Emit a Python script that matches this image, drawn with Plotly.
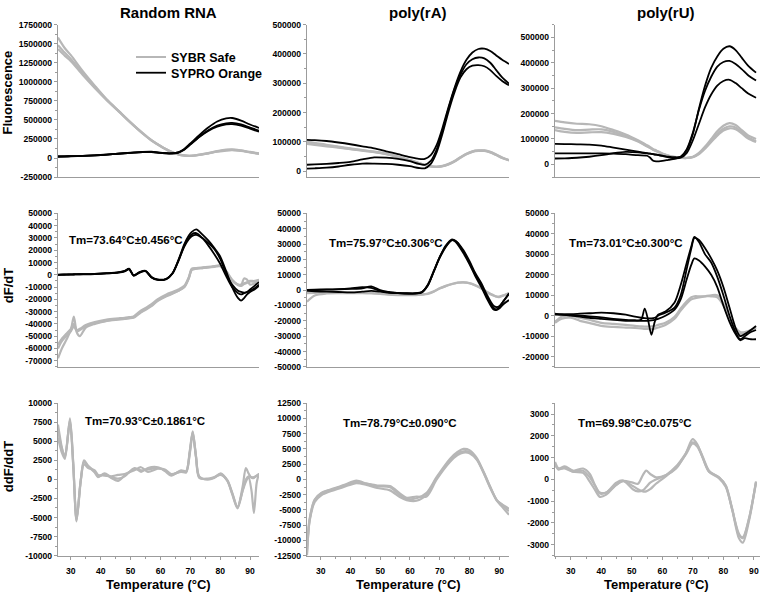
import plotly.graph_objects as go

# ---------------- DATA ----------------
# Row 1 : Fluorescence
T_F_RAND = [25.7, 28, 30, 34, 38, 42, 46, 50, 54, 57, 60, 63, 66, 68, 70, 73, 76, 79, 82, 84, 87, 90, 93]
F_RAND_SYBR_1 = [1580000, 1440000, 1350000, 1140000, 950000, 770000, 620000, 470000, 330000, 235000, 160000, 95000, 50000, 35000, 30000, 45000, 65000, 90000, 110000, 115000, 100000, 80000, 60000]
F_RAND_SYBR_2 = [1480000, 1380000, 1300000, 1110000, 935000, 765000, 615000, 465000, 325000, 232000, 157000, 92000, 48000, 33000, 28000, 42000, 62000, 86000, 104000, 108000, 96000, 76000, 57000]
F_RAND_SYBR_3 = [1430000, 1340000, 1270000, 1090000, 920000, 760000, 612000, 462000, 322000, 230000, 155000, 90000, 46000, 31000, 27000, 40000, 60000, 82000, 98000, 102000, 92000, 73000, 55000]
F_RAND_SYPRO_1 = [20000, 22000, 24000, 28000, 35000, 45000, 58000, 70000, 80000, 82000, 70000, 62000, 75000, 120000, 190000, 300000, 400000, 480000, 520000, 525000, 490000, 440000, 395000]
F_RAND_SYPRO_2 = [20000, 22000, 24000, 28000, 35000, 45000, 57000, 68000, 78000, 80000, 68000, 60000, 73000, 115000, 180000, 280000, 365000, 425000, 455000, 460000, 440000, 400000, 360000]
F_RAND_SYPRO_3 = [18000, 20000, 22000, 27000, 34000, 44000, 56000, 67000, 77000, 79000, 67000, 59000, 72000, 110000, 175000, 275000, 355000, 410000, 440000, 445000, 425000, 385000, 345000]

T_F_RA = [25.4, 28, 32, 36, 40, 44, 48, 52, 56, 60, 63, 65, 67, 69, 71, 73, 75, 77, 79, 81, 83, 85, 87, 89, 91, 93.3]
F_RA_SYBR_1 = [100000, 97000, 90000, 84000, 78000, 72000, 67000, 60000, 50000, 38000, 28000, 22000, 17000, 15000, 18000, 25000, 35000, 48000, 60000, 68000, 71000, 71000, 66000, 57000, 47000, 38000]
F_RA_SYBR_2 = [93000, 90000, 85000, 80000, 75000, 70000, 65000, 58000, 48000, 36000, 27000, 21000, 16000, 14500, 17000, 23000, 33000, 46000, 58000, 66000, 69000, 69000, 64000, 55000, 45000, 37000]
F_RA_SYBR_3 = [97000, 94000, 88000, 82000, 76000, 71000, 66000, 59000, 49000, 37000, 27500, 21500, 16500, 14800, 17500, 24000, 34000, 47000, 59000, 67000, 70000, 70000, 65000, 56000, 46000, 37500]
F_RA_SYPRO_1 = [107000, 106000, 103000, 98000, 92000, 85000, 78000, 68000, 58000, 48000, 42000, 42000, 55000, 90000, 150000, 220000, 285000, 340000, 380000, 405000, 417000, 418000, 410000, 395000, 380000, 366000]
F_RA_SYPRO_2 = [22000, 23000, 25000, 28000, 32000, 40000, 47000, 46000, 42000, 34000, 25000, 22000, 35000, 75000, 140000, 215000, 280000, 330000, 365000, 382000, 388000, 385000, 370000, 345000, 320000, 299000]
F_RA_SYPRO_3 = [9000, 10000, 12000, 16000, 22000, 26000, 26000, 25000, 22000, 17000, 11000, 10000, 25000, 65000, 130000, 205000, 270000, 320000, 348000, 360000, 362000, 358000, 345000, 325000, 308000, 293000]

T_F_RU = [24.8, 28, 32, 36, 40, 44, 48, 52, 55, 56, 57, 58, 60, 62, 64, 66, 68, 70, 72, 74, 76, 78, 80, 82, 84, 86, 88, 90.7]
F_RU_SYBR_1 = [171000, 165000, 160000, 158000, 150000, 135000, 118000, 95000, 75000, 68000, 60000, 55000, 43000, 35000, 30000, 27000, 26000, 30000, 45000, 70000, 100000, 130000, 152000, 162000, 155000, 135000, 115000, 100000]
F_RU_SYBR_2 = [146000, 140000, 135000, 137000, 138000, 128000, 112000, 92000, 72000, 65000, 58000, 53000, 42000, 34000, 29000, 26000, 25000, 29000, 42000, 65000, 93000, 120000, 140000, 150000, 145000, 127000, 108000, 90000]
F_RU_SYBR_3 = [135000, 128000, 124000, 126000, 127000, 120000, 108000, 90000, 70000, 64000, 57000, 52000, 41000, 33000, 28000, 25500, 25000, 28000, 40000, 62000, 88000, 113000, 133000, 142000, 138000, 122000, 103000, 88000]
F_RU_SYPRO_1 = [81000, 80000, 79000, 78000, 74000, 66000, 58000, 50000, 44000, 42000, 40000, 38000, 34000, 30000, 28000, 30000, 55000, 120000, 220000, 310000, 380000, 425000, 455000, 465000, 450000, 420000, 390000, 361000]
F_RU_SYPRO_2 = [43000, 43000, 43000, 43000, 43000, 42000, 40000, 36000, 34000, 26000, 14000, 12000, 14000, 18000, 22000, 30000, 60000, 125000, 215000, 290000, 345000, 385000, 403000, 407000, 395000, 375000, 352000, 330000]
F_RU_SYPRO_3 = [23000, 24000, 26000, 30000, 36000, 44000, 49000, 47000, 43000, 42000, 40000, 38000, 33000, 28000, 24000, 26000, 45000, 95000, 160000, 225000, 275000, 310000, 328000, 333000, 320000, 300000, 280000, 262000]

# Row 2 : dF/dT
T_D_RAND = [25.7, 27, 28.5, 30, 31, 32, 33, 35, 38, 42, 46, 48, 49.5, 51, 53, 55, 57, 59, 62, 64, 66, 68, 69.5, 70.5, 72, 74, 76, 78, 80, 82, 84, 86, 87, 88, 89, 90, 91.5, 93]
D_RAND_SYBR_1 = [-68000, -60000, -53000, -45000, -34000, -47000, -50000, -43000, -40000, -37500, -36000, -35500, -35000, -34500, -31000, -28000, -25000, -21000, -17000, -15000, -13000, -10000, -3000, 4000, 5000, 5500, 6000, 6500, 7000, 3000, -4000, -8000, -8500, -3000, -4000, -8000, -7000, -5000]
D_RAND_SYBR_2 = [-57000, -52000, -48000, -44000, -40000, -45000, -44000, -41000, -38500, -36500, -35500, -35000, -34500, -34000, -30000, -27000, -24000, -20000, -16000, -14000, -12000, -9000, -2000, 5000, 5500, 6000, 6500, 7000, 7500, 2000, -5000, -8000, -8000, -7000, -6000, -5000, -5000, -4000]
D_RAND_SYBR_3 = [-60000, -54000, -50000, -46000, -42000, -46000, -45000, -42000, -39500, -37500, -36500, -36000, -35500, -35000, -31500, -28500, -25500, -21500, -17500, -15500, -13000, -10000, -2500, 4500, 5000, 5500, 6000, 6800, 7200, 2500, -4500, -8500, -9000, -7500, -6500, -5500, -5500, -4500]
D_RAND_SYPRO_1 = [0, 100, 200, 300, 350, 400, 450, 500, 700, 1200, 2000, 3000, 5000, -500, 2000, 3200, -2000, -4000, -3400, 1000, 12000, 25000, 32000, 35000, 37000, 33000, 28000, 22000, 15000, 3000, -10000, -19000, -21000, -19000, -16000, -14000, -12000, -9000]
D_RAND_SYPRO_2 = [0, 0, 100, 200, 250, 300, 350, 400, 600, 1100, 1800, 2800, 4500, -800, 1800, 3000, -2200, -4200, -3500, 800, 11000, 24000, 30000, 33000, 34000, 30000, 24000, 17000, 9000, -1000, -10000, -15000, -16000, -15000, -14000, -13000, -11000, -8000]
D_RAND_SYPRO_3 = [200, 300, 300, 400, 450, 500, 550, 600, 800, 1300, 2100, 3200, 4800, -300, 2200, 3300, -1800, -3800, -3200, 1200, 11500, 23000, 29000, 31500, 32500, 30000, 26000, 21000, 13000, 1000, -8000, -13000, -14000, -14500, -14000, -12000, -9000, -6000]

T_D_RA = [25.4, 28, 32, 36, 40, 44, 47, 50, 53, 56, 59, 62, 64, 66, 68, 70, 72, 74, 75, 76, 78, 80, 82, 84, 86, 88, 89, 90, 91.5, 93.3]
D_RA_SYBR_1 = [-7500, -3500, -2200, -2000, -2000, -2000, -2000, -2500, -3000, -3200, -3300, -3300, -3000, -2500, -1000, 1000, 2500, 3800, 4300, 4800, 5000, 4500, 3000, 1000, -1500, -3500, -4300, -4500, -3500, -2000]
D_RA_SYBR_2 = [-2000, -1800, -1500, -1500, -1600, -1800, -2000, -2300, -2700, -3000, -3100, -3100, -2800, -2200, -800, 1200, 2800, 4000, 4500, 4900, 5100, 4600, 3200, 1200, -1200, -3200, -4000, -4200, -3300, -1800]
D_RA_SYPRO_1 = [0, 0, 300, 500, 800, 1200, 2500, 0, -1500, -2000, -2200, -2200, -1500, 3000, 12000, 21000, 28000, 32500, 32500, 31000, 25000, 18000, 10000, 3000, -5000, -11500, -12500, -11000, -7000, -2500]
D_RA_SYPRO_2 = [-500, -800, -1000, -1200, -1500, -1000, -500, -1000, -1800, -2000, -2300, -2100, -1400, 3500, 12500, 21500, 28500, 32500, 32000, 30000, 24000, 17000, 9000, 2000, -6000, -12500, -13000, -12000, -9000, -6500]
D_RA_SYPRO_3 = [200, 300, 500, 700, 1200, 2000, 1500, -500, -1200, -1800, -2000, -2000, -1200, 3000, 12000, 21500, 29000, 33000, 32500, 31000, 26000, 19000, 11000, 4500, -3500, -10000, -11000, -10500, -7000, -2000]

T_D_RU = [24.8, 27, 30, 33, 36, 40, 44, 48, 51, 53, 54.2, 55.3, 56.4, 57.5, 58.6, 61, 64, 66, 68, 69.5, 70.5, 72, 74, 76, 78, 80, 82, 84, 85.5, 87, 89, 90.7]
D_RU_SYBR_1 = [-3500, -1500, -1000, -2500, -3500, -5000, -5500, -5800, -6000, -6200, -6400, -6500, -6600, -6300, -5800, -4500, -1500, 2500, 6000, 8000, 8500, 9000, 9500, 10000, 10000, 6000, -1000, -6000, -8000, -8000, -7000, -6000]
D_RU_SYBR_2 = [-3000, -500, 0, -1000, -2000, -3500, -4000, -4500, -5000, -5200, -5300, -5300, -5200, -5000, -4500, -3500, -500, 3500, 7000, 9000, 9500, 9500, 9500, 9500, 9000, 5000, -2000, -7000, -9000, -8500, -7000, -5500]
D_RU_SYPRO_1 = [800, 600, 300, 0, -300, -800, -1500, -2000, -2200, -2000, 3500, -2000, -9300, -3000, 500, 2000, 6500, 15000, 26000, 34000, 38500, 36000, 30000, 26000, 19000, 10000, 0, -8000, -11500, -10000, -8000, -7000]
D_RU_SYPRO_2 = [500, 700, 800, 1000, 1200, 1500, 1200, 500, -500, -1000, -1200, -1300, -1300, -1000, 0, 1500, 4000, 10000, 23000, 33000, 38000, 37000, 33000, 28000, 22000, 14000, 4000, -6000, -10000, -9000, -7000, -5000]
D_RU_SYPRO_3 = [1000, 500, 0, -500, -1000, -1500, -2000, -2500, -2500, -2500, -2500, -2500, -2300, -2000, -1500, 0, 3000, 8000, 18000, 25000, 28000, 27000, 24000, 20000, 14000, 5000, -3000, -9000, -12000, -11000, -11500, -11500]

# Row 3 : ddF/ddT (SYBR Safe)
T_DD_RAND = [25.7, 27, 28, 29.7, 30.8, 31.9, 33.3, 34.4, 35.8, 38, 39.1, 41.3, 43.5, 45.8, 48, 51.3, 53.5, 55.8, 59.1, 61.5, 63.6, 66.9, 68.6, 69.8, 70.8, 71.9, 73, 75.8, 78, 80.2, 82.4, 84, 85.8, 87.5, 88.6, 89.5, 90.5, 91.3, 92.2, 93]
DD_RAND_1 = [6500, 4000, 3000, 7800, 2000, -5500, -300, 2500, 1800, 1000, 400, 700, 200, -200, 500, 1400, 1200, 1300, 1500, 1200, 600, 1100, 1000, 3500, 6200, 3000, 300, 0, 200, 700, -200, -1800, -3700, -1000, 1500, 800, 200, 200, 500, 700]
DD_RAND_2 = [7200, 4200, 2900, 7500, 1800, -5200, -200, 2000, 1500, 1200, 600, 500, 400, 600, 700, 1200, 1600, 1000, 1400, 1300, 700, 1000, 900, 3300, 6000, 2900, 200, 100, 300, 600, -100, -1700, -3600, -1500, -300, 300, -1500, -4400, -500, 800]
DD_RAND_3 = [5500, 3500, 2700, 8000, 2200, -5400, -100, 2300, 1700, 900, 300, 800, 300, 100, 400, 1500, 1000, 1500, 1600, 1100, 500, 1200, 1100, 3700, 6300, 3100, 400, 0, 250, 800, -150, -1900, -3800, -1500, 0, 400, 300, 300, 500, 700]

T_DD_RA = [25.4, 26.3, 28, 30.2, 34.2, 38, 42, 45.4, 49, 53.3, 56.6, 58.9, 62.2, 65.6, 69, 73.5, 76, 78, 80, 82.5, 85, 87, 89.2, 91, 93.3]
DD_RA_1 = [-12500, -6600, -3400, -2300, -1500, -900, -200, -700, -1100, -1300, -2600, -3200, -3100, -2200, 400, 3400, 4500, 5000, 4800, 3500, 1000, -1200, -3400, -4200, -5200]
DD_RA_2 = [-12000, -6800, -3700, -2600, -1800, -1200, -600, -900, -1400, -1800, -2900, -3400, -3500, -2500, 200, 3100, 4200, 4600, 4500, 3300, 900, -1300, -3500, -4500, -5800]
DD_RA_3 = [-11500, -6400, -3300, -2200, -1600, -1000, -400, -700, -1000, -1100, -2300, -3000, -2800, -2800, 0, 2900, 4000, 4400, 4300, 3200, 800, -1400, -3400, -4100, -4800]

T_DD_RU = [24.8, 26, 28, 30.8, 34, 36.2, 38, 39.5, 41.6, 44.9, 47.1, 50.3, 52, 53.6, 54.7, 56, 57.9, 61.2, 64.5, 67.7, 69.9, 71.5, 73.2, 75.3, 78.6, 80.8, 82.9, 85.1, 86.4, 88.4, 90.7]
DD_RU_1 = [800, 500, 600, 400, 500, 250, -300, -650, -600, -250, -70, -150, -200, 200, 400, 250, 100, 200, 500, 1200, 1850, 1600, 1000, 350, 100, -300, -1400, -2500, -2700, -1800, -100]
DD_RU_2 = [700, 450, 550, 350, 300, -100, -500, -800, -700, -250, -80, -300, -450, -550, -550, -450, -200, 150, 550, 1150, 1650, 1500, 1000, 350, 50, -350, -1400, -2700, -2900, -1900, -150]
DD_RU_3 = [650, 500, 500, 350, 400, 100, -300, -600, -600, -150, -50, -450, -550, -500, -350, -150, 0, 200, 600, 1200, 1700, 1550, 1050, 400, 80, -280, -1350, -2550, -2650, -1800, -100]

# Tick values
YT_F_RAND = [-250000, 0, 250000, 500000, 750000, 1000000, 1250000, 1500000, 1750000]
YT_F_RA = [0, 100000, 200000, 300000, 400000, 500000]
YT_F_RU = [0, 100000, 200000, 300000, 400000, 500000]
YT_D_RAND = [-70000, -60000, -50000, -40000, -30000, -20000, -10000, 0, 10000, 20000, 30000, 40000, 50000]
YT_D_RA = [-50000, -40000, -30000, -20000, -10000, 0, 10000, 20000, 30000, 40000, 50000]
YT_D_RU = [-20000, -10000, 0, 10000, 20000, 30000, 40000, 50000]
YT_DD_RAND = [-10000, -7500, -5000, -2500, 0, 2500, 5000, 7500, 10000]
YT_DD_RA = [-12500, -10000, -7500, -5000, -2500, 0, 2500, 5000, 7500, 10000, 12500]
YT_DD_RU = [-3000, -2000, -1000, 0, 1000, 2000, 3000]
XT = [30, 40, 50, 60, 70, 80, 90]

COL_TITLES = ["Random RNA", "poly(rA)", "poly(rU)"]
ROW_TITLES = ["Fluorescence", "dF/dT", "ddF/ddT"]
TM_D = ["Tm=73.64°C±0.456°C", "Tm=75.97°C±0.306°C", "Tm=73.01°C±0.300°C"]
TM_DD = ["Tm=70.93°C±0.1861°C", "Tm=78.79°C±0.090°C", "Tm=69.98°C±0.075°C"]

# ---------------- LAYOUT ----------------
W, H = 760, 597
GRAY = "#b7b7b7"
BLACK = "#000000"
AXC = "#9c9c9c"
FONT = "Liberation Sans"

col_px = [(58, 259), (307, 509), (555, 760)]
row_px = [(20, 175), (212, 368), (405, 560)]
XR3 = [24.8, 92.0]

panels = [
    (0, 0, T_F_RAND, [F_RAND_SYBR_1, F_RAND_SYBR_2, F_RAND_SYBR_3], [F_RAND_SYPRO_1, F_RAND_SYPRO_2, F_RAND_SYPRO_3], [-250000, 1750000], YT_F_RAND, 125000, [25.7, 93]),
    (0, 1, T_F_RA, [F_RA_SYBR_1, F_RA_SYBR_2, F_RA_SYBR_3], [F_RA_SYPRO_1, F_RA_SYPRO_2, F_RA_SYPRO_3], [-20000, 500000], YT_F_RA, 50000, [25.4, 93.3]),
    (0, 2, T_F_RU, [F_RU_SYBR_1, F_RU_SYBR_2, F_RU_SYBR_3], [F_RU_SYPRO_1, F_RU_SYPRO_2, F_RU_SYPRO_3], [-50000, 550000], YT_F_RU, 50000, XR3),
    (1, 0, T_D_RAND, [D_RAND_SYBR_1, D_RAND_SYBR_2, D_RAND_SYBR_3], [D_RAND_SYPRO_1, D_RAND_SYPRO_2, D_RAND_SYPRO_3], [-75000, 50000], YT_D_RAND, 5000, [25.7, 93]),
    (1, 1, T_D_RA, [D_RA_SYBR_1, D_RA_SYBR_2], [D_RA_SYPRO_1, D_RA_SYPRO_2, D_RA_SYPRO_3], [-50000, 50000], YT_D_RA, 5000, [25.4, 93.3]),
    (1, 2, T_D_RU, [D_RU_SYBR_1, D_RU_SYBR_2], [D_RU_SYPRO_1, D_RU_SYPRO_2, D_RU_SYPRO_3], [-25000, 50000], YT_D_RU, 5000, XR3),
    (2, 0, T_DD_RAND, [DD_RAND_1, DD_RAND_2, DD_RAND_3], [], [-10000, 10000], YT_DD_RAND, 1250, [25.7, 93]),
    (2, 1, T_DD_RA, [DD_RA_1, DD_RA_2, DD_RA_3], [], [-12500, 12500], YT_DD_RA, 1250, [25.4, 93.3]),
    (2, 2, T_DD_RU, [DD_RU_1, DD_RU_2, DD_RU_3], [], [-3500, 3500], YT_DD_RU, 500, XR3),
]

fig = go.Figure()
tickfont = dict(family=FONT, size=8.6, color="black", weight="bold")
layout = {}
legend_done = {"gray": False, "black": False}

for idx, (r, c, T, grays, blacks, yr, yt, ymin, xr) in enumerate(panels):
    k = idx + 1
    xa = "x" if k == 1 else f"x{k}"
    ya = "y" if k == 1 else f"y{k}"
    for series in grays:
        assert len(series) == len(T), (k, len(series), len(T))
        show = not legend_done["gray"]
        legend_done["gray"] = True
        fig.add_trace(go.Scatter(x=T, y=series, mode="lines", xaxis=xa, yaxis=ya,
                                 line=dict(color=GRAY, width=2.2, shape="spline", smoothing=0.8),
                                 name="SYBR Safe", showlegend=show, legend="legend", hoverinfo="skip"))
    for series in blacks:
        assert len(series) == len(T), (k, len(series), len(T))
        show = not legend_done["black"]
        legend_done["black"] = True
        fig.add_trace(go.Scatter(x=T, y=series, mode="lines", xaxis=xa, yaxis=ya,
                                 line=dict(color=BLACK, width=1.8, shape="spline", smoothing=0.8),
                                 name="SYPRO Orange", showlegend=show, legend="legend2", hoverinfo="skip"))
    x0, x1 = col_px[c]
    y0, y1 = row_px[r]
    bottom = (r == 2)
    layout["xaxis" if k == 1 else f"xaxis{k}"] = dict(
        domain=[x0 / W, x1 / W], anchor=ya, range=xr, showgrid=False, zeroline=False,
        showline=True, linecolor=AXC, linewidth=1.3,
        ticks="outside" if bottom else "", ticklen=3, tickcolor=AXC,
        tickvals=XT, ticktext=[str(v) for v in XT], showticklabels=bottom,
        tickfont=tickfont, ticklabeloverflow="allow", ticklabelstandoff=4,
        minor=dict(dtick=5, tick0=0, ticklen=2, tickcolor=AXC, ticks="outside" if bottom else "", showgrid=False),
    )
    layout["yaxis" if k == 1 else f"yaxis{k}"] = dict(
        domain=[1 - y1 / H, 1 - y0 / H], anchor=xa, range=yr, showgrid=False, zeroline=False,
        showline=True, linecolor=AXC, linewidth=1.3,
        ticks="outside", ticklen=3, tickcolor=AXC,
        tickvals=yt, ticktext=[str(v) for v in yt], tickfont=tickfont, ticklabeloverflow="allow",
        minor=dict(dtick=ymin, tick0=0, ticklen=2, tickcolor=AXC, ticks="outside", showgrid=False),
    )

ann = []
title_font = dict(family=FONT, size=15, color="black", weight="bold")
lab_font = dict(family=FONT, size=13, color="black", weight="bold")
tm_font = dict(family=FONT, size=11.5, color="black", weight="bold")
col_centers = [158.5, 408, 656]
for c, t in enumerate(COL_TITLES):
    ann.append(dict(text=t, x=(col_centers[c] + 10) / W, y=1 - 8 / H, xref="paper", yref="paper",
                    showarrow=False, xanchor="center", yanchor="middle", font=title_font))
    ann.append(dict(text="Temperature (°C)", x=col_centers[c] / W, y=1 - 589 / H,
                    xref="paper", yref="paper", showarrow=False, xanchor="center", yanchor="middle", font=lab_font))
for r, (t, yc) in enumerate(zip(ROW_TITLES, [89, 286, 470])):
    ann.append(dict(text=t, x=8 / W, y=1 - yc / H, xref="paper", yref="paper", textangle=-90,
                    showarrow=False, xanchor="center", yanchor="middle", font=lab_font))
for t, (xl, yc) in zip(TM_D, [(67, 239), (327, 242), (567, 242)]):
    ann.append(dict(text=t, x=xl / W, y=1 - yc / H, xref="paper", yref="paper",
                    showarrow=False, xanchor="left", yanchor="middle", font=tm_font))
for t, (xl, yc) in zip(TM_DD, [(83, 423), (341, 425), (576, 425)]):
    ann.append(dict(text=t, x=xl / W, y=1 - yc / H, xref="paper", yref="paper",
                    showarrow=False, xanchor="left", yanchor="middle", font=tm_font))

leg_font = dict(family=FONT, size=12.5, color="black", weight="bold")
fig.update_layout(
    width=W, height=H, margin=dict(l=0, r=0, t=0, b=0),
    paper_bgcolor="white", plot_bgcolor="white",
    showlegend=True,
    legend=dict(x=131 / W, y=1 - 38 / H, xanchor="left", yanchor="top", font=leg_font,
                bgcolor="rgba(0,0,0,0)", itemwidth=30, tracegroupgap=0),
    legend2=dict(x=131 / W, y=1 - 54 / H, xanchor="left", yanchor="top", font=leg_font,
                 bgcolor="rgba(0,0,0,0)", itemwidth=30, tracegroupgap=0),
    annotations=ann,
    **layout,
)

fig.write_html("out.html", config={"displayModeBar": False},
               post_script="document.body.style.margin='0';document.body.style.overflow='hidden';")
